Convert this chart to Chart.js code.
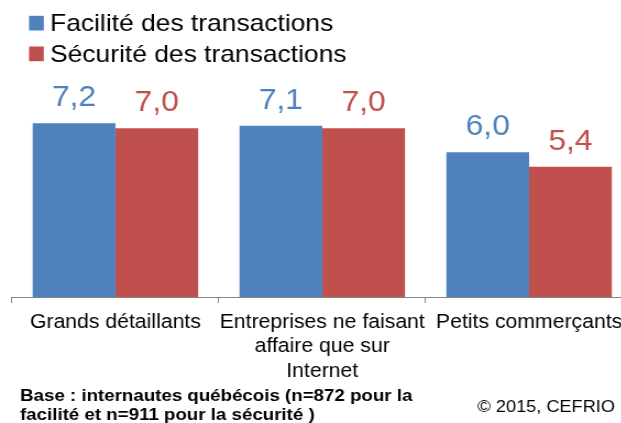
<!DOCTYPE html>
<html>
<head>
<meta charset="utf-8">
<script src="https://cdn.jsdelivr.net/npm/chart.js@4.4.1/dist/chart.umd.min.js"></script>
<style>
  html, body { margin: 0; padding: 0; overflow: hidden; background: #fff; width: 621px; height: 423px; }
  #wrap { position: absolute; left: 0; top: 0; width: 575px; height: 423px; transform: scaleX(1.1); transform-origin: 0 0; }
</style>
</head>
<body>
<div id="wrap"><canvas id="c"></canvas></div>
<script>
const categories = [
  "Grands détaillants",
  ["Entreprises ne faisant", "affaire que sur", "Internet"],
  "Petits commerçants"
];
const seriesNames = ["Facilité des transactions", "Sécurité des transactions"];
const facilite = [7.2, 7.1, 6.0];
const securite = [7.0, 7.0, 5.4];
const footnoteLines = [
  "Base : internautes québécois (n=872 pour la",
  "facilité et n=911 pour la sécurité )"
];
const copyright = "© 2015, CEFRIO";

const BLUE = "#4F81BD";
const RED = "#C0504D";
const FONT = '"Liberation Sans", Arial, sans-serif';

const extras = {
  id: "extras",
  afterDatasetsDraw(chart) {
    const ctx = chart.ctx;
    ctx.save();
    // value labels
    chart.data.datasets.forEach((ds, di) => {
      const meta = chart.getDatasetMeta(di);
      meta.data.forEach((el, i) => {
        ctx.fillStyle = ds.backgroundColor;
        ctx.font = "29px " + FONT;
        ctx.textAlign = "center";
        ctx.textBaseline = "alphabetic";
        ctx.fillText(ds.data[i].toFixed(1).replace(".", ","), el.x, el.y - 17);
      });
    });
    // legend
    chart.data.datasets.forEach((ds, di) => {
      const base = 31 + di * 30.7;
      ctx.fillStyle = ds.backgroundColor;
      ctx.fillRect(26.4, base - 15.2, 13.4, 14.7);
      ctx.fillStyle = "#000";
      ctx.font = "24px " + FONT;
      ctx.textAlign = "left";
      ctx.textBaseline = "alphabetic";
      ctx.fillText(ds.label, 45.5, base);
    });
    // footnote
    ctx.fillStyle = "#000";
    ctx.font = "bold 17px " + FONT;
    ctx.textAlign = "left";
    footnoteLines.forEach((t, i) => ctx.fillText(t, 18.2, 401 + i * 19));
    ctx.font = "16.5px " + FONT;
    ctx.textAlign = "right";
    ctx.fillText(copyright, 559, 411.5);
    ctx.restore();
  }
};

new Chart(document.getElementById("c"), {
  type: "bar",
  data: {
    labels: categories,
    datasets: [
      { label: seriesNames[0], data: facilite, backgroundColor: BLUE, borderWidth: 0 },
      { label: seriesNames[1], data: securite, backgroundColor: RED, borderWidth: 0 }
    ]
  },
  options: {
    responsive: true,
    maintainAspectRatio: false,
    animation: false,
    devicePixelRatio: 1,
    categoryPercentage: 0.8,
    barPercentage: 1.0,
    layout: { padding: { top: 104, left: 10.9, right: 0, bottom: 0 } },
    plugins: { legend: { display: false }, tooltip: { enabled: false } },
    scales: {
      x: {
        grid: { offset: true, drawOnChartArea: false, drawTicks: true, tickLength: 6, color: "#868686", lineWidth: 1 },
        border: { color: "#868686", width: 1 },
        ticks: {
          color: "#000",
          font: { family: FONT, size: 19.3, lineHeight: 1.28 },
          padding: 7,
          maxRotation: 0,
          minRotation: 0,
          autoSkip: false
        },
        afterFit(scale) { scale.height = 126; }
      },
      y: { display: false, min: 0, max: 8 }
    }
  },
  plugins: [extras]
});
</script>
</body>
</html>
